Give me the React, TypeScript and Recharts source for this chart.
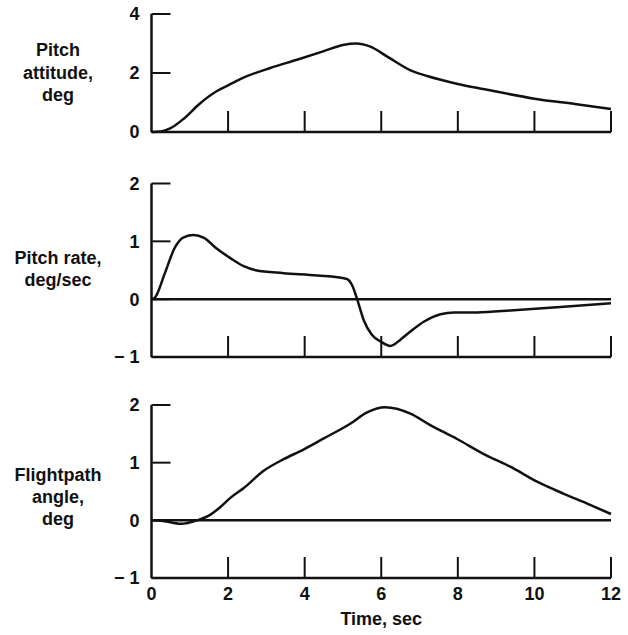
import React from 'react';
import { LineChart, Line, XAxis, YAxis, ReferenceLine } from 'recharts';

// Pitch attitude, deg
const attitudeTime = [0, 0.25, 0.5, 0.85, 1.25, 1.7, 2.0, 2.4, 3.1, 3.8, 4.5, 5.0, 5.35, 5.7, 6.2, 6.75, 7.2, 8.0, 8.7, 10.0, 11.1, 12];
const attitudeDeg = [0, 0.02, 0.13, 0.46, 0.95, 1.38, 1.58, 1.84, 2.17, 2.45, 2.74, 2.95, 3.0, 2.9, 2.52, 2.1, 1.9, 1.63, 1.45, 1.13, 0.94, 0.78];

// Pitch rate, deg/sec
const rateTime = [0, 0.08, 0.35, 0.6, 0.84, 1.1, 1.37, 1.71, 2.06, 2.41, 2.72, 3.45, 4.33, 5.1, 5.24, 5.37, 5.54, 5.76, 5.98, 6.24, 6.5, 6.76, 7.11, 7.55, 7.9, 8.5, 9.46, 10.77, 12];
const rateDegSec = [0, 0.02, 0.45, 0.88, 1.07, 1.11, 1.06, 0.87, 0.71, 0.57, 0.5, 0.45, 0.41, 0.35, 0.24, 0, -0.36, -0.62, -0.73, -0.81, -0.7, -0.56, -0.39, -0.26, -0.23, -0.23, -0.19, -0.13, -0.07];

// Flightpath angle, deg
const pathTime = [0, 0.3, 0.76, 1.19, 1.54, 1.8, 2.06, 2.41, 2.93, 3.45, 3.98, 4.5, 5.2, 5.63, 6.1, 6.76, 7.28, 7.98, 8.68, 9.37, 10.07, 10.77, 11.38, 12];
const pathDeg = [0, -0.01, -0.06, 0, 0.1, 0.23, 0.39, 0.56, 0.86, 1.06, 1.23, 1.42, 1.68, 1.87, 1.96, 1.85, 1.65, 1.41, 1.15, 0.93, 0.67, 0.46, 0.29, 0.11];

const timeTicks = [0, 2, 4, 6, 8, 10, 12];
const attitudeTicks = [0, 2, 4];
const rateTicks = [-1, 0, 1, 2];
const pathTicks = [-1, 0, 1, 2];

const FONT = '"Liberation Sans", Arial, Helvetica, sans-serif';
const INK = '#111';

const toRows = (t: number[], v: number[]) => t.map((time, i) => ({ time, value: v[i] }));

const fmt = (v: number) => (v < 0 ? `\u2212 ${-v}` : `${v}`);

// upward tick marks on the time axis, numbers only on the bottom panel
const XTick = ({ x, y, payload, showLabel }: any) => (
  <g>
    {payload.value !== 0 && (
      <line x1={x} y1={y} x2={x} y2={y - 21} stroke={INK} strokeWidth={2} />
    )}
    {showLabel && (
      <text x={x} y={y + 22} textAnchor="middle" fontFamily={FONT} fontWeight="bold" fontSize={18} fill={INK}>
        {payload.value}
      </text>
    )}
  </g>
);

const XTickPlain = (p: any) => <XTick {...p} showLabel={false} />;
const XTickLabelled = (p: any) => <XTick {...p} showLabel />;

const YTick = ({ x, y, payload }: any) => (
  <g>
    <line x1={x} y1={y} x2={x + 19} y2={y} stroke={INK} strokeWidth={2} />
    <text x={x - 12} y={y} dy="0.36em" textAnchor="end" fontFamily={FONT} fontWeight="bold" fontSize={18} fill={INK}>
      {fmt(payload.value)}
    </text>
  </g>
);

const sideLabel = (lines: string[], baselines: number[]) => () => (
  <text textAnchor="middle" fontFamily={FONT} fontWeight="bold" fontSize={18} fill={INK}>
    {lines.map((l, i) => (
      <tspan key={l} x={58} y={baselines[i]}>
        {l}
      </tspan>
    ))}
  </text>
);

const timeLabel = ({ viewBox }: any) => (
  <text x={viewBox.x + viewBox.width / 2} y={viewBox.y + 47} textAnchor="middle" fontFamily={FONT} fontWeight="bold" fontSize={18} fill={INK}>
    Time, sec
  </text>
);

interface PanelProps {
  top: number;
  height: number;
  plotTop: number;
  axisHeight: number;
  rows: { time: number; value: number }[];
  domain: [number, number];
  ticks: number[];
  lines: string[];
  baselines: number[];
  zeroLine?: boolean;
  showTime?: boolean;
}

const Panel = ({ top, height, plotTop, axisHeight, rows, domain, ticks, lines, baselines, zeroLine, showTime }: PanelProps) => (
  <div style={{ position: 'absolute', left: 0, top }}>
    <LineChart width={628} height={height} data={rows} margin={{ top: plotTop, bottom: 0, left: 0, right: 17 }}>
      <XAxis
        dataKey="time"
        type="number"
        domain={[0, 12]}
        ticks={timeTicks}
        height={axisHeight}
        tickSize={0}
        tickMargin={0}
        tickLine={false}
        interval={0}
        axisLine={{ stroke: INK, strokeWidth: 2.5 }}
        tick={showTime ? XTickLabelled : XTickPlain}
        label={showTime ? { content: timeLabel } : undefined}
      />
      <YAxis
        type="number"
        domain={domain}
        ticks={ticks}
        width={151.5}
        tickSize={0}
        tickMargin={0}
        tickLine={false}
        interval={0}
        axisLine={{ stroke: INK, strokeWidth: 2.5 }}
        tick={YTick}
        label={{ content: sideLabel(lines, baselines) }}
      />
      {zeroLine && <ReferenceLine y={0} stroke={INK} strokeWidth={2.5} />}
      <Line type="monotone" dataKey="value" stroke={INK} strokeWidth={2.5} dot={false} isAnimationActive={false} />
    </LineChart>
  </div>
);

export default function App() {
  return (
    <div style={{ position: 'absolute', left: 0, top: 0, width: 628, height: 635, background: '#fff', overflow: 'hidden' }}>
      <Panel
        top={0}
        height={152}
        plotTop={14}
        axisHeight={20}
        rows={toRows(attitudeTime, attitudeDeg)}
        domain={[0, 4]}
        ticks={attitudeTicks}
        lines={['Pitch', 'attitude,', 'deg']}
        baselines={[56, 79, 101]}
      />
      <Panel
        top={160}
        height={215}
        plotTop={23.5}
        axisHeight={18}
        rows={toRows(rateTime, rateDegSec)}
        domain={[-1, 2]}
        ticks={rateTicks}
        lines={['Pitch rate,', 'deg/sec']}
        baselines={[104, 126]}
        zeroLine
      />
      <Panel
        top={380}
        height={255}
        plotTop={25}
        axisHeight={57}
        rows={toRows(pathTime, pathDeg)}
        domain={[-1, 2]}
        ticks={pathTicks}
        lines={['Flightpath', 'angle,', 'deg']}
        baselines={[101, 123, 145]}
        zeroLine
        showTime
      />
    </div>
  );
}
